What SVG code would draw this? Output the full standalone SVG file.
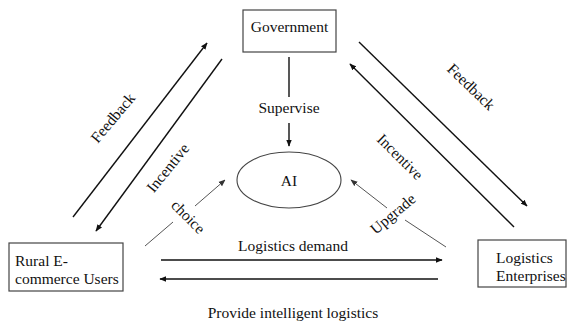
<svg xmlns="http://www.w3.org/2000/svg" width="568" height="323" viewBox="0 0 568 323">
<style>
.t{font-family:"Liberation Serif","Times New Roman",serif;font-size:15.5px;fill:#111}
.c{text-anchor:middle}
.box{fill:#fff;stroke:#444;stroke-width:1.2}
.ln{stroke:#111;stroke-width:1.4;fill:none}
.th{stroke:#555;stroke-width:1;fill:none}
</style>
<defs>
<marker id="ah" viewBox="0 0 10 10" refX="9" refY="5" markerWidth="5" markerHeight="5" orient="auto" markerUnits="strokeWidth">
<path d="M0,1 L10,5 L0,9 z" fill="#111"/>
</marker>
<marker id="ah2" viewBox="0 0 10 10" refX="9" refY="5" markerWidth="7" markerHeight="7" orient="auto" markerUnits="strokeWidth">
<path d="M0,1 L10,5 L0,9 z" fill="#333"/>
</marker>
</defs>
<rect width="568" height="323" fill="#fff"/>
<g id="government">
<rect class="box" x="243" y="10" width="93" height="42"/>
<text class="t c" x="289.5" y="32">Government</text>
</g>
<g id="ai">
<ellipse cx="289" cy="180" rx="52" ry="28" fill="none" stroke="#444" stroke-width="1.1"/>
<text class="t c" x="289" y="186">AI</text>
</g>
<g id="rural">
<rect class="box" x="9" y="243" width="114" height="48"/>
<text class="t" x="15" y="266">Rural E-</text>
<text class="t" x="15" y="284">commerce Users</text>
</g>
<g id="logistics">
<rect class="box" x="478" y="240" width="88" height="47"/>
<text class="t" x="496" y="263">Logistics</text>
<text class="t" x="496" y="281">Enterprises</text>
</g>
<g id="connectors">
<line class="ln" x1="289" y1="57" x2="289" y2="97"/>
<line class="ln" x1="289" y1="123" x2="289" y2="146" marker-end="url(#ah)"/>
<line class="ln" x1="73" y1="217" x2="207" y2="43" marker-end="url(#ah)"/>
<line class="ln" x1="222" y1="59" x2="96" y2="231" marker-end="url(#ah)"/>
<line class="ln" x1="359" y1="42" x2="527" y2="206" marker-end="url(#ah)"/>
<line class="ln" x1="514" y1="227" x2="350" y2="64" marker-end="url(#ah)"/>
<line class="th" x1="145" y1="246" x2="173" y2="222"/>
<line class="th" x1="195" y1="206" x2="225" y2="180" marker-end="url(#ah2)"/>
<line class="th" x1="446" y1="247" x2="405" y2="220"/>
<line class="th" x1="387" y1="208" x2="351" y2="180" marker-end="url(#ah2)"/>
<line class="ln" x1="161" y1="260" x2="442" y2="260" marker-end="url(#ah)"/>
<line class="ln" x1="438" y1="279" x2="160" y2="279" marker-end="url(#ah)"/>
<text class="t c" x="289" y="113">Supervise</text>
<text class="t c" transform="translate(113,118) rotate(-50)" y="5">Feedback</text>
<text class="t c" transform="translate(168,168) rotate(-51)" y="5">Incentive</text>
<text class="t c" transform="translate(471,87) rotate(44)" y="5">Feedback</text>
<text class="t c" transform="translate(400,157) rotate(45)" y="5">Incentive</text>
<text class="t c" transform="translate(188,217) rotate(45)" y="5">choice</text>
<text class="t c" transform="translate(393,214) rotate(-40)" y="5">Upgrade</text>
<text class="t c" x="293" y="251">Logistics demand</text>
<text class="t c" x="293" y="318">Provide intelligent logistics</text>
</g>
</svg>
